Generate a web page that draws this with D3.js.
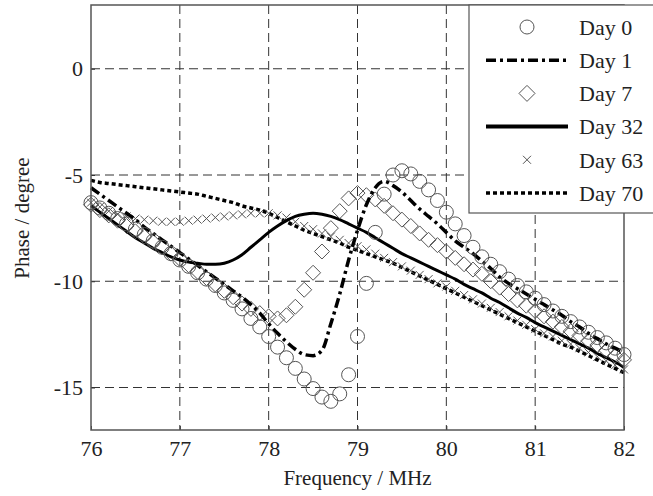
<!DOCTYPE html>
<html><head><meta charset="utf-8">
<script src="https://cdn.jsdelivr.net/npm/d3@7/dist/d3.min.js"></script>
<style>
html,body{margin:0;padding:0;background:#fff;}
svg{display:block;}
text{font-family:"Liberation Serif","Times New Roman",serif;fill:#222;}
</style></head>
<body><svg id="chart" width="653" height="496"></svg>
<script>
const freq = [76.0,76.1,76.2,76.3,76.4,76.5,76.6,76.7,76.8,76.9,
77.0,77.1,77.2,77.3,77.4,77.5,77.6,77.7,77.8,77.9,
78.0,78.1,78.2,78.3,78.4,78.5,78.6,78.7,78.8,78.9,
79.0,79.1,79.2,79.3,79.4,79.5,79.6,79.7,79.8,79.9,
80.0,80.1,80.2,80.3,80.4,80.5,80.6,80.7,80.8,80.9,
81.0,81.1,81.2,81.3,81.4,81.5,81.6,81.7,81.8,81.9,82.0];

const day0 = [-6.3,-6.55,-6.8,-7.05,-7.3,-7.55,-7.8,-8.1,-8.4,-8.7,
-9.0,-9.3,-9.6,-9.9,-10.2,-10.55,-10.9,-11.3,-11.75,-12.15,
-12.6,-13.1,-13.6,-14.1,-14.6,-15.05,-15.45,-15.65,-15.3,-14.4,
-12.6,-10.1,-7.7,-5.9,-5.0,-4.8,-4.95,-5.3,-5.7,-6.2,
-6.75,-7.3,-7.85,-8.4,-8.85,-9.2,-9.55,-9.9,-10.2,-10.5,
-10.8,-11.1,-11.4,-11.65,-11.9,-12.15,-12.4,-12.65,-12.9,-13.15,-13.45];

const day1 = [-5.6,-5.9,-6.2,-6.5,-6.8,-7.1,-7.45,-7.75,-8.05,-8.35,
-8.65,-8.95,-9.25,-9.55,-9.85,-10.15,-10.45,-10.75,-11.1,-11.5,
-12.0,-12.45,-12.85,-13.2,-13.45,-13.5,-13.25,-12.0,-10.6,-9.0,
-7.6,-6.4,-5.6,-5.3,-5.5,-5.8,-6.2,-6.6,-6.95,-7.3,
-7.7,-8.1,-8.4,-8.7,-9.05,-9.4,-9.8,-10.1,-10.35,-10.6,
-10.85,-11.1,-11.35,-11.6,-11.9,-12.15,-12.45,-12.7,-12.95,-13.15,-13.35];

const day7 = [-6.4,-6.65,-6.9,-7.15,-7.4,-7.65,-7.9,-8.15,-8.4,-8.7,
-8.95,-9.25,-9.55,-9.85,-10.15,-10.45,-10.75,-11.05,-11.3,-11.5,
-11.65,-11.75,-11.6,-11.2,-10.4,-9.6,-8.6,-7.5,-6.7,-6.1,
-5.85,-5.95,-6.15,-6.45,-6.8,-7.1,-7.4,-7.75,-8.05,-8.3,
-8.6,-8.9,-9.2,-9.45,-9.65,-10.0,-10.3,-10.6,-10.9,-11.15,
-11.4,-11.65,-11.9,-12.15,-12.35,-12.55,-12.8,-13.0,-13.25,-13.5,-13.7];

const day32 = [-6.45,-6.75,-7.05,-7.35,-7.65,-7.95,-8.2,-8.45,-8.65,-8.85,
-9.0,-9.1,-9.15,-9.2,-9.2,-9.15,-9.0,-8.75,-8.4,-8.05,
-7.7,-7.4,-7.15,-6.95,-6.85,-6.8,-6.85,-6.95,-7.1,-7.3,
-7.5,-7.7,-7.95,-8.2,-8.45,-8.7,-8.9,-9.1,-9.3,-9.5,
-9.7,-9.9,-10.15,-10.35,-10.55,-10.8,-11.0,-11.25,-11.5,-11.7,
-11.95,-12.15,-12.35,-12.55,-12.75,-12.95,-13.15,-13.4,-13.6,-13.8,-14.05];

const day63 = [-6.3,-6.5,-6.7,-6.85,-6.95,-7.05,-7.1,-7.15,-7.2,-7.2,
-7.2,-7.15,-7.1,-7.05,-7.0,-6.95,-6.9,-6.85,-6.8,-6.8,
-6.8,-6.9,-7.0,-7.2,-7.4,-7.55,-7.75,-7.9,-8.05,-8.2,
-8.35,-8.5,-8.7,-8.9,-9.1,-9.3,-9.5,-9.7,-9.9,-10.1,
-10.25,-10.45,-10.65,-10.85,-11.05,-11.25,-11.45,-11.65,-11.85,-12.05,
-12.25,-12.45,-12.6,-12.8,-12.95,-13.15,-13.35,-13.55,-13.75,-13.95,-14.15];

const day70 = [-5.25,-5.35,-5.4,-5.45,-5.5,-5.55,-5.6,-5.65,-5.7,-5.75,
-5.8,-5.85,-5.9,-6.0,-6.1,-6.2,-6.3,-6.45,-6.55,-6.65,
-6.8,-7.0,-7.2,-7.4,-7.6,-7.75,-7.9,-8.05,-8.2,-8.4,
-8.55,-8.7,-8.85,-9.0,-9.15,-9.35,-9.55,-9.75,-9.95,-10.15,
-10.35,-10.55,-10.75,-10.95,-11.15,-11.35,-11.55,-11.75,-11.95,-12.15,
-12.35,-12.55,-12.75,-12.95,-13.1,-13.3,-13.5,-13.7,-13.9,-14.1,-14.3];

const xTicks = [76,77,78,79,80,81,82];
const yTicks = [0,-5,-10,-15];
const legendLabels = ["Day 0","Day 1","Day 7","Day 32","Day 63","Day 70"];

const svg = d3.select("#chart");
const L = 91, R = 624, T = 5, B = 430;
const x = d3.scaleLinear().domain([76,82]).range([L,R]);
const y = d3.scaleLinear().domain([-17,3]).range([B,T]);
const gridCol = "#333", markCol = "#555";

// grid
const grid = svg.append("g");
grid.selectAll(".gx").data(xTicks.slice(1,-1)).join("line")
  .attr("x1",d=>x(d)).attr("x2",d=>x(d)).attr("y1",T).attr("y2",B)
  .attr("stroke",gridCol).attr("stroke-width",1).attr("stroke-dasharray","9,5");
grid.selectAll(".gy").data(yTicks).join("line")
  .attr("x1",L).attr("x2",R).attr("y1",d=>y(d)).attr("y2",d=>y(d))
  .attr("stroke",gridCol).attr("stroke-width",1).attr("stroke-dasharray","9,5");

// axes
const xAxis = d3.axisBottom(x).tickValues(xTicks).tickSize(-4).tickPadding(10).tickFormat(d3.format("d"));
const gx = svg.append("g").attr("transform",`translate(0,${B})`).call(xAxis);
const yAxis = d3.axisLeft(y).tickValues(yTicks).tickSize(-4).tickPadding(8).tickFormat(d=>d===0?"0":"-"+Math.abs(d));
const gy = svg.append("g").attr("transform",`translate(${L},0)`).call(yAxis);
[gx,gy].forEach(g=>{
  g.select(".domain").remove();
  g.selectAll(".tick line").attr("stroke","#333");
  g.selectAll("text").attr("font-family","Liberation Serif, serif").attr("font-size",22).attr("fill","#222");
});

const pts = (vals)=>freq.map((f,i)=>[f,vals[i]]);
const line = d3.line().x(d=>x(d[0])).y(d=>y(d[1])).curve(d3.curveMonotoneX);
const plot = svg.append("g");

// Day 70 dotted
plot.append("path").datum(pts(day70)).attr("d",line).attr("fill","none")
  .attr("stroke","#000").attr("stroke-width",3.5).attr("stroke-dasharray","4,3");
// Day 63 crosses
plot.selectAll(".x63").data(pts(day63)).join("path")
  .attr("d",d=>{const cx=x(d[0]),cy=y(d[1]),s=4;return `M${cx-s},${cy-s}L${cx+s},${cy+s}M${cx-s},${cy+s}L${cx+s},${cy-s}`;})
  .attr("stroke",markCol).attr("stroke-width",1).attr("fill","none");
// Day 32 solid
plot.append("path").datum(pts(day32)).attr("d",line).attr("fill","none")
  .attr("stroke","#000").attr("stroke-width",3);
// Day 7 diamonds
plot.selectAll(".d7").data(pts(day7)).join("path")
  .attr("d",d=>{const cx=x(d[0]),cy=y(d[1]),s=7.5;return `M${cx},${cy-s}L${cx+s},${cy}L${cx},${cy+s}L${cx-s},${cy}Z`;})
  .attr("stroke",markCol).attr("stroke-width",1).attr("fill","none");
// Day 1 dash-dot
plot.append("path").datum(pts(day1)).attr("d",line).attr("fill","none")
  .attr("stroke","#000").attr("stroke-width",3.5).attr("stroke-dasharray","10,4,3,4");
// Day 0 circles
plot.selectAll(".c0").data(pts(day0)).join("circle")
  .attr("cx",d=>x(d[0])).attr("cy",d=>y(d[1])).attr("r",7)
  .attr("stroke",markCol).attr("stroke-width",1).attr("fill","none");

// frame
svg.append("rect").attr("x",L).attr("y",T).attr("width",R-L).attr("height",B-T)
  .attr("fill","none").attr("stroke","#555").attr("stroke-width",1.5);

// legend
const lg = svg.append("g");
lg.append("rect").attr("x",469).attr("y",5).attr("width",200).attr("height",208)
  .attr("fill","#fff").attr("stroke","#555").attr("stroke-width",1.2);
const ly = i => 27 + i*33.2;
legendLabels.forEach((lab,i)=>{
  const cy = ly(i);
  const g = lg.append("g");
  if(i===0){
    g.append("circle").attr("cx",527).attr("cy",cy).attr("r",7).attr("fill","none").attr("stroke",markCol).attr("stroke-width",1);
  } else if(i===2){
    g.append("path").attr("d",`M527,${cy-8}L535,${cy}L527,${cy+8}L519,${cy}Z`).attr("fill","none").attr("stroke",markCol).attr("stroke-width",1);
  } else if(i===4){
    g.append("path").attr("d",`M523,${cy-4}L531,${cy+4}M523,${cy+4}L531,${cy-4}`).attr("stroke",markCol).attr("stroke-width",1);
  } else {
    const dash = i===1?"10,4,3,4":(i===5?"4,3":null);
    const ln = g.append("line").attr("x1",486).attr("x2",568).attr("y1",cy).attr("y2",cy)
      .attr("stroke","#000").attr("stroke-width",i===3?4:3.5);
    if(dash) ln.attr("stroke-dasharray",dash);
  }
  g.append("text").attr("x",579).attr("y",cy).attr("dy","0.35em").attr("font-size",22).text(lab);
});

// axis titles
svg.append("text").attr("x",(L+R)/2).attr("y",485).attr("text-anchor","middle").attr("font-size",21).text("Frequency / MHz");
svg.append("text").attr("transform","translate(29,218) rotate(-90)").attr("text-anchor","middle").attr("font-size",21).text("Phase / degree");
</script></body></html>
